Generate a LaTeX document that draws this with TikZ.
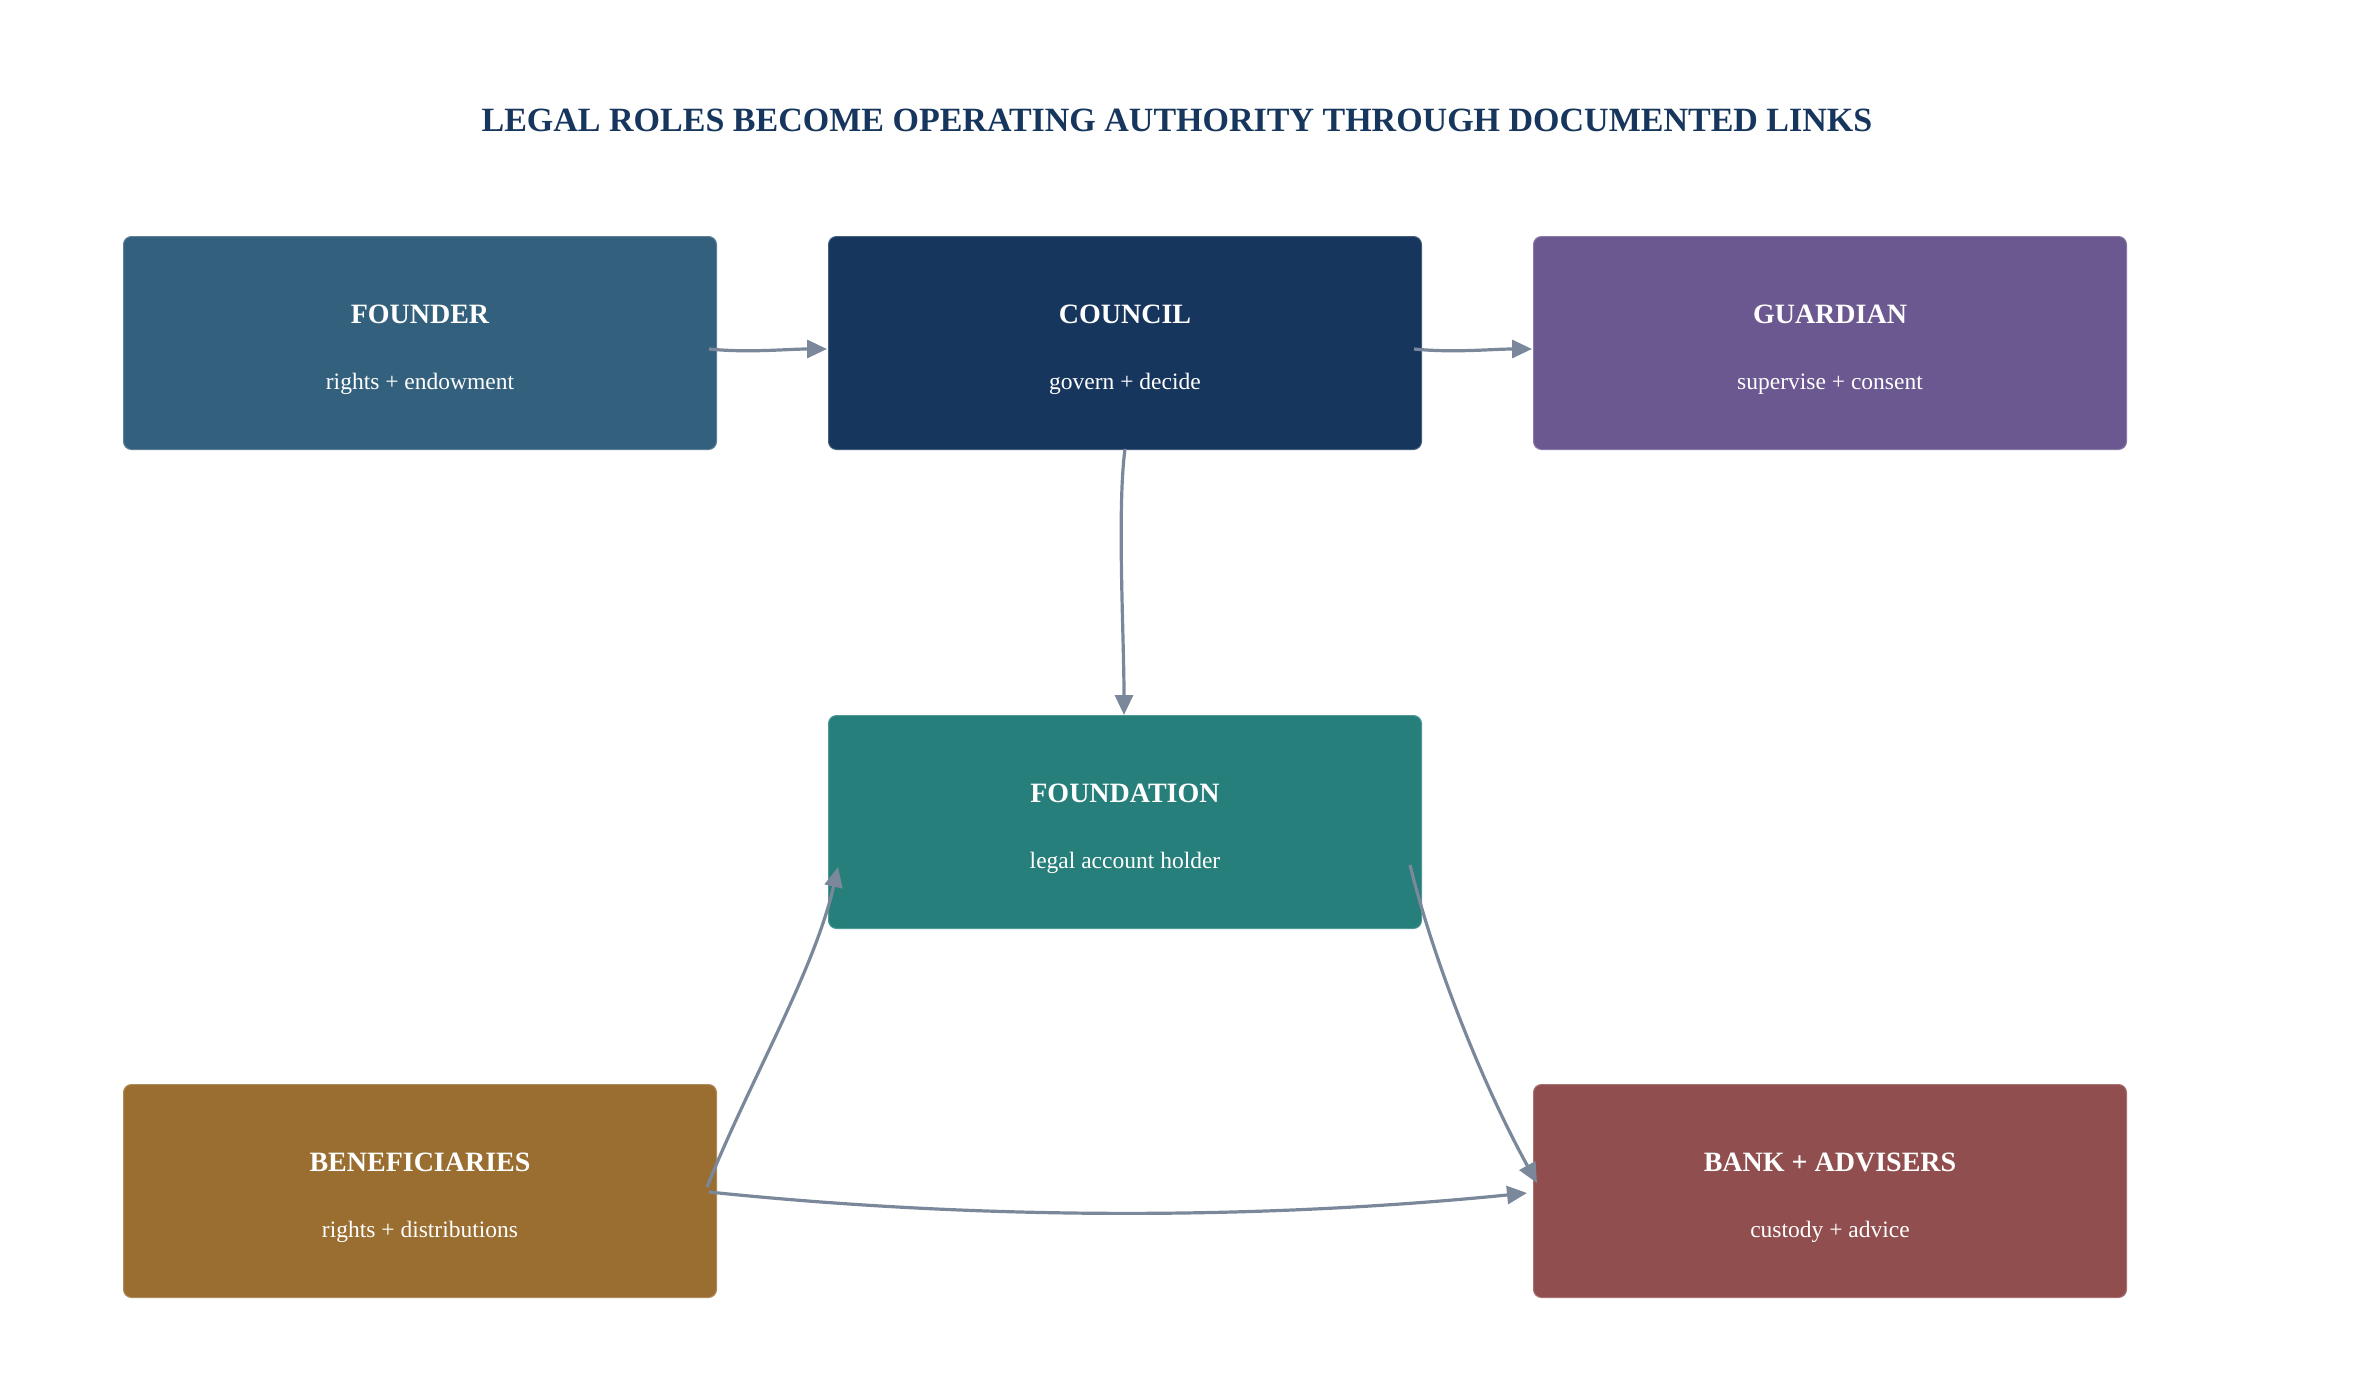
\documentclass[tikz,border=0pt]{standalone}
\usepackage{fontspec}
\setmainfont{Liberation Serif}
\usetikzlibrary{arrows.meta,calc}
\definecolor{cTitle}{HTML}{17365D}
\definecolor{cFounder}{HTML}{33607D}
\definecolor{cCouncil}{HTML}{17365D}
\definecolor{cGuardian}{HTML}{6B5891}
\definecolor{cFoundation}{HTML}{267F7A}
\definecolor{cBenef}{HTML}{9A6E31}
\definecolor{cBank}{HTML}{914E4E}
\definecolor{cArrow}{HTML}{7B889C}
\tikzset{
  rolebox/.style={rectangle, rounded corners=8pt, minimum width=593pt, minimum height=213pt, inner sep=0pt, draw=#1!80!white, line width=1pt, fill=#1},
  boxttl/.style={anchor=base, text=white, font=\fontsize{28}{32}\selectfont\bfseries, inner sep=0pt},
  boxsub/.style={anchor=base, text=white, font=\fontsize{23.5}{28}\selectfont, inner sep=0pt},
  link/.style={draw=cArrow, line width=3.2pt, -{Triangle[length=20pt,width=18pt]}},
}
\begin{document}
\begin{tikzpicture}[x=1pt,y=-1pt]
\useasboundingbox (0,0) rectangle (2354,1385);
\node[anchor=base, text=cTitle, font=\fontsize{34}{40}\selectfont\bfseries, inner sep=0pt] (title) at (1177,131) {LEGAL ROLES BECOME OPERATING AUTHORITY THROUGH DOCUMENTED LINKS};

\node[rolebox=cFounder] (founder) at (420,343) {};
\node[rolebox=cCouncil] (council) at (1125,343) {};
\node[rolebox=cGuardian] (guardian) at (1830,343) {};
\node[rolebox=cFoundation] (foundation) at (1125,822) {};
\node[rolebox=cBenef] (benef) at (420,1191) {};
\node[rolebox=cBank] (bank) at (1830,1191) {};

\node[boxttl] (founderT) at ($(founder.center)+(0,-20)$) {FOUNDER};
\node[boxsub] (founderS) at ($(founder.center)+(0,46)$) {rights + endowment};
\node[boxttl] (councilT) at ($(council.center)+(0,-20)$) {COUNCIL};
\node[boxsub] (councilS) at ($(council.center)+(0,46)$) {govern + decide};
\node[boxttl] (guardianT) at ($(guardian.center)+(0,-20)$) {GUARDIAN};
\node[boxsub] (guardianS) at ($(guardian.center)+(0,46)$) {supervise + consent};
\node[boxttl] (foundationT) at ($(foundation.center)+(0,-20)$) {FOUNDATION};
\node[boxsub] (foundationS) at ($(foundation.center)+(0,46)$) {legal account holder};
\node[boxttl] (benefT) at ($(benef.center)+(0,-20)$) {BENEFICIARIES};
\node[boxsub] (benefS) at ($(benef.center)+(0,46)$) {rights + distributions};
\node[boxttl] (bankT) at ($(bank.center)+(0,-20)$) {BANK + ADVISERS};
\node[boxsub] (bankS) at ($(bank.center)+(0,46)$) {custody + advice};

\draw[link] ([shift={(-8,6)}]founder.east) .. controls +(40,4) and +(-40,0) .. ([shift={(-1,6)}]council.west);
\draw[link] ([shift={(-8,6)}]council.east) .. controls +(40,4) and +(-40,0) .. ([shift={(-1,6)}]guardian.west);
\draw[link] ([shift={(0,-1)}]council.south) .. controls +(-8,60) and +(0,-80) .. ([shift={(-1,0)}]foundation.north);
\draw[link] ([shift={(-10,-4)}]benef.east) .. controls +(42,-105) and +(-24,105) .. ([shift={(10,45)}]foundation.west);
\draw[link] ([shift={(-12,43)}]foundation.east) .. controls +(26,105) and +(-50,-90) .. ([shift={(4,-8)}]bank.west);
\draw[link] ([shift={(-8,1)}]benef.east) .. controls +(270,28) and +(-270,27) .. ([shift={(-6,2)}]bank.west);
\end{tikzpicture}
\end{document}
